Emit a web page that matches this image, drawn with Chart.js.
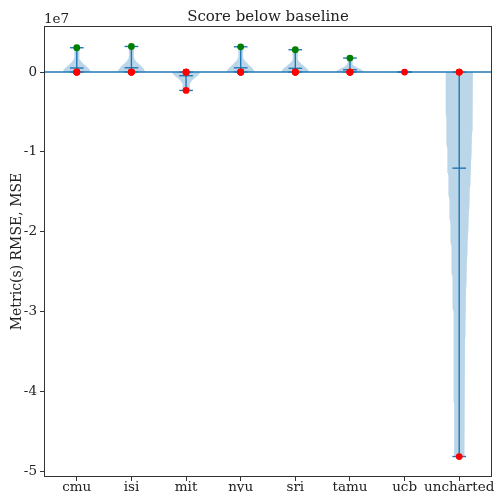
<!DOCTYPE html>
<html>
<head>
<meta charset="utf-8">
<script src="https://cdn.jsdelivr.net/npm/chart.js@4.4.1/dist/chart.umd.min.js"></script>
<style>
  html, body { margin: 0; padding: 0; background: #fff; }
  canvas { display: block; }
</style>
</head>
<body>
<canvas id="scoreChart" width="500" height="492"></canvas>
<script>
// performers along the x axis
const categories = ['cmu', 'isi', 'mit', 'nyu', 'sri', 'tamu', 'ucb', 'uncharted'];

// scores below baseline, one array per performer
const cmuScores = [0, 0, 0, 0, 0, 3.04e6];
const isiScores = [0, 0, 0, 0, 0, 3.2e6];
const mitScores = [0, 0, 0, 0, -2.3e6];
const nyuScores = [0, 0, 0, 0, 0, 3.16e6];
const sriScores = [0, 0, 0, 0, 0, 2.79e6];
const tamuScores = [0, 0, 0, 0, 0, 1.75e6];
const ucbScores = [0];
const unchartedScores = [0, 0, 0, -4.81e7];

const yTicks = [0, -1e7, -2e7, -3e7, -4e7, -5e7];

const allScores = [cmuScores, isiScores, mitScores, nyuScores, sriScores, tamuScores, ucbScores, unchartedScores];

const BLUE = '#1f77b4';
const BODY = 'rgba(31,119,180,0.3)';
const SERIF = '"DejaVu Serif", serif';

// gaussian kde (scott's rule) outline, clipped to min..max like a violin plot
function violinOutline(values, pos) {
    const lo = Math.min(...values), hi = Math.max(...values);
    if (hi === lo) return [];
    const n = values.length;
    const mean = values.reduce((a, b) => a + b, 0) / n;
    const variance = values.reduce((a, v) => a + (v - mean) ** 2, 0) / (n - 1);
    const bw = Math.sqrt(variance) * Math.pow(n, -0.2);
    const ys = [], dens = [];
    for (let i = 0; i < 100; i++) {
        const y = lo + (hi - lo) * i / 99;
        ys.push(y);
        dens.push(values.reduce((a, v) => a + Math.exp(-0.5 * ((y - v) / bw) ** 2), 0));
    }
    const peak = Math.max(...dens);
    const left = ys.map((y, i) => ({ x: pos - 0.25 * dens[i] / peak, y }));
    const right = ys.map((y, i) => ({ x: pos + 0.25 * dens[i] / peak, y })).reverse();
    return left.concat(right);
}

function segment(data, width) {
    return { data, borderColor: BLUE, borderWidth: width, pointRadius: 0, fill: false, order: 1 };
}

const datasets = [];

// horizontal line at zero
datasets.push(Object.assign(segment([{ x: 0.4, y: 0 }, { x: 8.6, y: 0 }], 1.5), { order: 2 }));

allScores.forEach((vals, i) => {
    const pos = i + 1;
    const lo = Math.min(...vals), hi = Math.max(...vals);
    const mean = vals.reduce((a, b) => a + b, 0) / vals.length;

    const outline = violinOutline(vals, pos);
    if (outline.length) {
        datasets.push({ data: outline, fill: 'shape', backgroundColor: BODY, borderWidth: 0, pointRadius: 0, order: 3 });
    }
    // bar, extrema and mean markers
    datasets.push(segment([{ x: pos, y: lo }, { x: pos, y: hi }], 1.4));
    [lo, hi, mean].forEach(v => {
        datasets.push(segment([{ x: pos - 0.125, y: v }, { x: pos + 0.125, y: v }], 1.4));
    });
});

// individual scores on top
const points = [];
allScores.forEach((vals, i) => vals.forEach(v => points.push({ x: i + 1, y: v })));
datasets.push({
    data: points,
    showLine: false,
    pointRadius: 3.4,
    pointBorderWidth: 0,
    pointBackgroundColor: points.map(p => p.y > 0 ? '#008000' : '#ff0000'),
    order: 0
});

const framePlugin = {
    id: 'frame',
    afterDraw(chart) {
        const { ctx, chartArea: a } = chart;
        ctx.save();
        ctx.strokeStyle = '#333';
        ctx.lineWidth = 1;
        ctx.strokeRect(a.left + 0.5, a.top + 0.5, a.right - a.left - 1, a.bottom - a.top - 1);
        ctx.fillStyle = '#222';
        ctx.textBaseline = 'alphabetic';
        ctx.font = '15px ' + SERIF;
        ctx.textAlign = 'center';
        ctx.fillText('Score below baseline', (a.left + a.right) / 2, a.top - 5);
        ctx.font = '13.5px ' + SERIF;
        ctx.textAlign = 'left';
        ctx.fillText('1e7', a.left, a.top - 3);
        ctx.restore();
    }
};

new Chart(document.getElementById('scoreChart'), {
    type: 'line',
    data: { datasets },
    options: {
        responsive: false,
        animation: false,
        devicePixelRatio: 1,
        layout: { padding: { top: 26, right: 8, left: 0, bottom: 0 } },
        plugins: { legend: { display: false }, tooltip: { enabled: false } },
        scales: {
            x: {
                type: 'linear',
                min: 0.4,
                max: 8.6,
                afterBuildTicks: axis => { axis.ticks = categories.map((c, i) => ({ value: i + 1 })); },
                afterFit: axis => { axis.height = 15; },
                ticks: {
                    autoSkip: false,
                    maxRotation: 0,
                    padding: -2,
                    color: '#222',
                    font: { family: SERIF, size: 13.5 },
                    callback: v => categories[v - 1]
                },
                grid: { drawOnChartArea: false, tickLength: 4, tickColor: '#333' },
                border: { display: false }
            },
            y: {
                min: -5.066e7,
                max: 0.576e7,
                afterBuildTicks: axis => { axis.ticks = yTicks.map(v => ({ value: v })); },
                afterFit: axis => { axis.width = 44; },
                ticks: {
                    padding: 3,
                    color: '#222',
                    font: { family: SERIF, size: 13.5 },
                    callback: v => String(v / 1e7)
                },
                grid: { drawOnChartArea: false, tickLength: 4, tickColor: '#333' },
                border: { display: false },
                title: {
                    display: true,
                    text: 'Metric(s) RMSE, MSE',
                    color: '#222',
                    font: { family: SERIF, size: 14 },
                    padding: { top: 9, bottom: 0 }
                }
            }
        }
    },
    plugins: [framePlugin]
});
</script>
</body>
</html>
